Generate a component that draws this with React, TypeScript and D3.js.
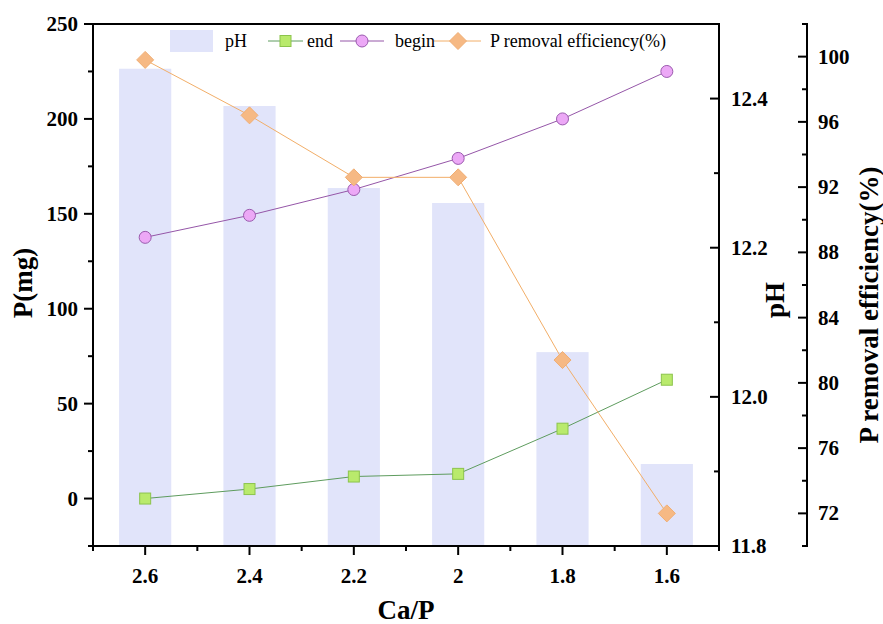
import React from "react";
import * as d3 from "d3";

const categories = ["2.6", "2.4", "2.2", "2", "1.8", "1.6"];
const phValues = [12.44, 12.39, 12.28, 12.26, 12.06, 11.91];
const endValues = [0, 5, 11.6, 13, 36.8, 62.6];
const beginValues = [137.6, 149.2, 162.8, 179.2, 200, 225];
const effValues = [99.8, 96.4, 92.6, 92.6, 81.4, 72.0];

const leftTicks = [0, 50, 100, 150, 200, 250];
const leftMinor = [-25, 25, 75, 125, 175, 225];
const phTicks = [11.8, 12.0, 12.2, 12.4];
const phMinor = [11.9, 12.1, 12.3, 12.5];
const effTicks = [72, 76, 80, 84, 88, 92, 96, 100];
const effMinor = [70, 74, 78, 82, 86, 90, 94, 98, 102];
const legendLabels = ["pH", "end", "begin", "P removal efficiency(%)"];

const W = 883, H = 624;
const M = { left: 93, right: 719, top: 24, bottom: 546 };
const EFF_X = 807;
const FONT = "Liberation Serif";

const BAR_COLOR = "#e1e4fa";
const GREEN_LINE = "#5e9c5e";
const GREEN_FILL = "#b9ea6c";
const GREEN_STROKE = "#8cc44c";
const PURPLE_LINE = "#9556a8";
const PURPLE_FILL = "#eca8f6";
const PURPLE_STROKE = "#9a5aae";
const ORANGE_LINE = "#f2ae68";
const ORANGE_FILL = "#f6b984";
const ORANGE_STROKE = "#f0ae74";

export default function App() {
  const x = d3.scaleBand<string>().domain(categories).range([M.left, M.right]).padding(0);
  const cx = (c: string) => (x(c) as number) + x.bandwidth() / 2;
  const yL = d3.scaleLinear().domain([-25, 250]).range([M.bottom, M.top]);
  const yPH = d3.scaleLinear().domain([11.8, 12.5]).range([M.bottom, M.top]);
  const yE = d3.scaleLinear().domain([70, 102]).range([M.bottom, M.top]);

  const barW = x.bandwidth() * 0.5;

  const lineGen = (vals: number[], y: d3.ScaleLinear<number, number>) =>
    d3.line<number>().x((_, i) => cx(categories[i])).y((v) => y(v))(vals) as string;

  const diamond = (px: number, py: number, r: number) =>
    `M${px},${py - r}L${px + r},${py}L${px},${py + r}L${px - r},${py}Z`;

  const bandEdges = categories.map((c) => x(c) as number).concat([M.right]);

  const tk = { stroke: "#000", strokeWidth: 2 };
  const lab = { fontFamily: FONT, fontWeight: "bold" as const, fontSize: 21 };
  const ttl = { fontFamily: FONT, fontWeight: "bold" as const, fontSize: 27 };
  const leg = { fontFamily: FONT, fontSize: 18 };

  const ly = 41;
  const legX = [225, 307, 395, 490];

  return (
    <svg width={W} height={H} style={{ position: "absolute", left: 0, top: 0, background: "#fff" }}>
      {categories.map((c, i) => (
        <rect
          key={"bar" + c}
          x={cx(c) - barW / 2}
          y={yPH(phValues[i])}
          width={barW}
          height={M.bottom - yPH(phValues[i])}
          fill={BAR_COLOR}
        />
      ))}

      <path d={lineGen(endValues, yL)} fill="none" stroke={GREEN_LINE} strokeWidth={1} />
      <path d={lineGen(beginValues, yL)} fill="none" stroke={PURPLE_LINE} strokeWidth={1} />
      <path d={lineGen(effValues, yE)} fill="none" stroke={ORANGE_LINE} strokeWidth={1} />

      {categories.map((c, i) => (
        <rect
          key={"sq" + c}
          x={cx(c) - 5.5}
          y={yL(endValues[i]) - 5.5}
          width={11}
          height={11}
          fill={GREEN_FILL}
          stroke={GREEN_STROKE}
          strokeWidth={1}
        />
      ))}
      {categories.map((c, i) => (
        <circle
          key={"ci" + c}
          cx={cx(c)}
          cy={yL(beginValues[i])}
          r={6}
          fill={PURPLE_FILL}
          stroke={PURPLE_STROKE}
          strokeWidth={1}
        />
      ))}
      {categories.map((c, i) => (
        <path
          key={"di" + c}
          d={diamond(cx(c), yE(effValues[i]), 8.5)}
          fill={ORANGE_FILL}
          stroke={ORANGE_STROKE}
          strokeWidth={1}
        />
      ))}

      <line x1={M.left} x2={M.right} y1={M.top} y2={M.top} {...tk} />
      <line x1={M.left} x2={M.right} y1={M.bottom} y2={M.bottom} {...tk} />
      <line x1={M.left} x2={M.left} y1={M.top - 1} y2={M.bottom + 1} {...tk} />
      <line x1={M.right} x2={M.right} y1={M.top - 1} y2={M.bottom + 1} {...tk} />
      <line x1={EFF_X} x2={EFF_X} y1={M.top - 1} y2={M.bottom + 1} {...tk} />

      {leftTicks.map((t) => (
        <line key={"ltl" + t} x1={M.left - 9} x2={M.left} y1={yL(t)} y2={yL(t)} {...tk} />
      ))}
      {leftTicks.map((t) => (
        <text key={"ltt" + t} x={M.left - 15} y={yL(t) + 7} textAnchor="end" {...lab}>
          {String(t)}
        </text>
      ))}
      {leftMinor.map((t) => (
        <line key={"lm" + t} x1={M.left - 5} x2={M.left} y1={yL(t)} y2={yL(t)} {...tk} />
      ))}

      {phTicks.map((t) => (
        <line key={"ptl" + t} x1={M.right - 9} x2={M.right} y1={yPH(t)} y2={yPH(t)} {...tk} />
      ))}
      {phTicks.map((t) => (
        <text key={"ptt" + t} x={M.right + 12} y={yPH(t) + 7} textAnchor="start" {...lab}>
          {t.toFixed(1)}
        </text>
      ))}
      {phMinor.map((t) => (
        <line key={"pm" + t} x1={M.right - 5} x2={M.right} y1={yPH(t)} y2={yPH(t)} {...tk} />
      ))}

      {effTicks.map((t) => (
        <line key={"etl" + t} x1={EFF_X - 9} x2={EFF_X} y1={yE(t)} y2={yE(t)} {...tk} />
      ))}
      {effTicks.map((t) => (
        <text key={"ett" + t} x={EFF_X + 11} y={yE(t) + 7} textAnchor="start" {...lab}>
          {String(t)}
        </text>
      ))}
      {effMinor.map((t) => (
        <line key={"em" + t} x1={EFF_X - 5} x2={EFF_X} y1={yE(t)} y2={yE(t)} {...tk} />
      ))}

      {categories.map((c) => (
        <line key={"btl" + c} x1={cx(c)} x2={cx(c)} y1={M.bottom} y2={M.bottom + 9} {...tk} />
      ))}
      {categories.map((c) => (
        <text key={"btt" + c} x={cx(c)} y={M.bottom + 37} textAnchor="middle" {...lab}>
          {c}
        </text>
      ))}
      {bandEdges.map((e, i) => (
        <line key={"bm" + i} x1={e} x2={e} y1={M.bottom} y2={M.bottom + 5} {...tk} />
      ))}

      <text x={406} y={619} textAnchor="middle" {...ttl}>
        Ca/P
      </text>
      <text transform={`translate(32,283) rotate(-90)`} textAnchor="middle" {...ttl}>
        P(mg)
      </text>
      <text transform={`translate(784,300) rotate(-90)`} textAnchor="middle" {...ttl}>
        pH
      </text>
      <text transform={`translate(878,305) rotate(-90)`} textAnchor="middle" {...ttl}>
        P removal efficiency(%)
      </text>

      <rect x={170} y={ly - 11} width={43} height={22} fill={BAR_COLOR} />
      <line x1={268} x2={303} y1={ly} y2={ly} stroke={GREEN_LINE} strokeWidth={1} />
      <rect x={285.5 - 5.5} y={ly - 5.5} width={11} height={11} fill={GREEN_FILL} stroke={GREEN_STROKE} />
      <line x1={340} x2={384} y1={ly} y2={ly} stroke={PURPLE_LINE} strokeWidth={1} />
      <circle cx={362} cy={ly} r={6} fill={PURPLE_FILL} stroke={PURPLE_STROKE} />
      <line x1={434} x2={481} y1={ly} y2={ly} stroke={ORANGE_LINE} strokeWidth={1} />
      <path d={diamond(458, ly, 8.5)} fill={ORANGE_FILL} stroke={ORANGE_STROKE} />
      {legendLabels.map((l, i) => (
        <text key={"leg" + i} x={legX[i]} y={ly + 6} {...leg}>
          {l}
        </text>
      ))}
    </svg>
  );
}
